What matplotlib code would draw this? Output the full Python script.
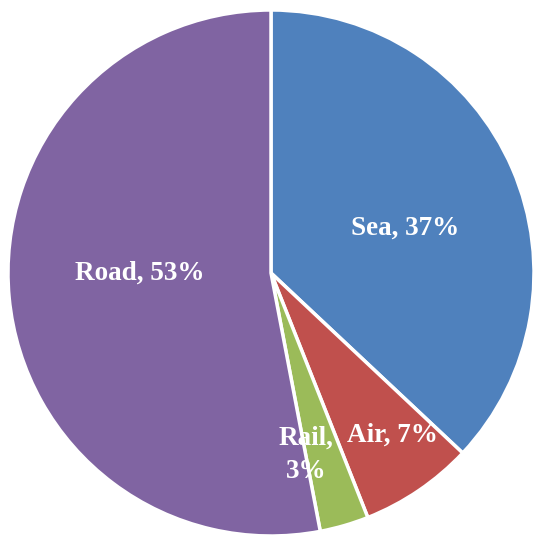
import matplotlib.pyplot as plt

# freight share by mode
categories = ["Sea", "Air", "Rail", "Road"]
shares = [37, 7, 3, 53]
colors = ["#4F81BD", "#C0504D", "#9BBB59", "#8064A2"]

# pie geometry in pixels (reference is cropped around the pie)
W, H = 533, 537
cx, cy, r = 271, 273, 263

# label anchor points in pixels
label_px = [(405, 228), (392, 435), (306, 455), (140, 273)]


def to_data(px, py):
    return (px - cx) / r, (cy - py) / r


fig = plt.figure(figsize=(W / 100, H / 100), dpi=100)
ax = fig.add_axes([0, 0, 1, 1])

ax.pie(shares, colors=colors, startangle=90, counterclock=False,
       radius=1, wedgeprops=dict(edgecolor="white", linewidth=2.5))

for cat, val, (px, py) in zip(categories, shares, label_px):
    text = f"{cat},\n{val}%" if cat == "Rail" else f"{cat}, {val}%"
    x, y = to_data(px, py)
    ax.text(x, y, text, ha="center", va="center", color="white",
            fontsize=19.5, fontweight="bold", family="Liberation Serif",
            linespacing=1.45)

ax.set_xlim(-cx / r, (W - cx) / r)
ax.set_ylim((cy - H) / r, cy / r)
ax.set_aspect("auto")
ax.axis("off")

fig.savefig("out.png", dpi=100)
